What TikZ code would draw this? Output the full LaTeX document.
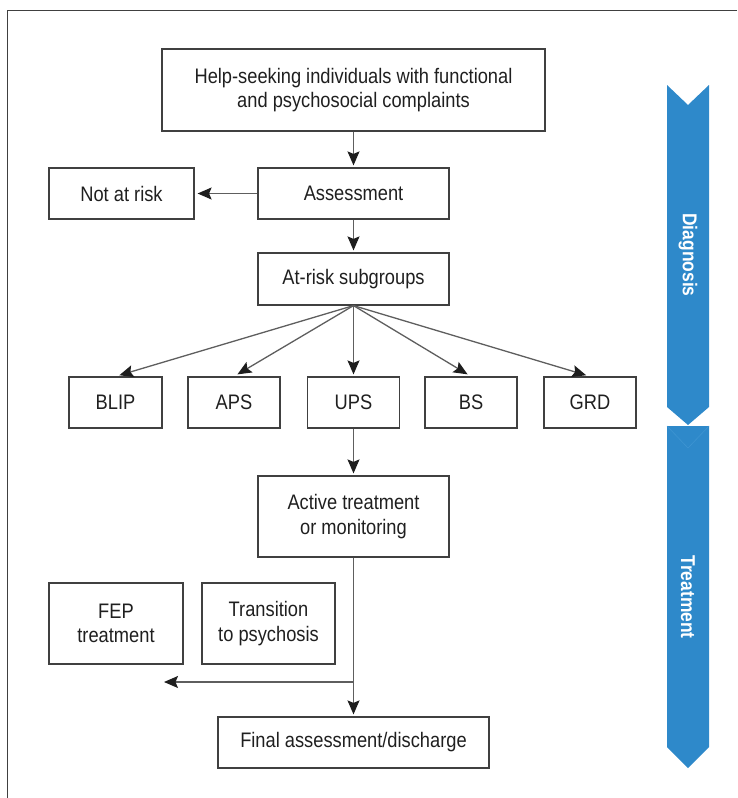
\documentclass[tikz,border=0pt]{standalone}
\usepackage{fontspec}
\setmainfont[FakeStretch=0.87]{Liberation Sans}
\usetikzlibrary{arrows.meta}
\definecolor{boxline}{HTML}{404040}
\definecolor{conn}{HTML}{5E5E5E}
\definecolor{tipcol}{HTML}{1E1E1E}
\definecolor{barblue}{HTML}{2E89CA}
\definecolor{barfaint}{HTML}{3E95D2}
\tikzset{
  box/.style={draw=boxline, line width=1.2pt, rectangle, align=center, inner sep=0pt,
    font=\fontsize{21}{24.5}\selectfont, text=black!88},
  conn/.style={draw=conn, line width=1.3pt, -{Stealth[length=14pt,width=12pt,inset=2.5pt,color=tipcol]}},
  bartext/.style={text=white, font=\bfseries\fontsize{20}{22}\selectfont, rotate=-90}
}
\begin{document}
\begin{tikzpicture}[x=1pt,y=-1pt]
\useasboundingbox (0,0) rectangle (737,798);
% frame
\draw[boxline, line width=1pt] (737,10) -- (7,10) -- (7,798);
% blue bars
\fill[barblue] (667,85) -- (688,105) -- (709,85) -- (709,407) -- (688,425) -- (667,407) -- cycle;
\fill[barblue] (667,426) -- (709,426) -- (709,747) -- (688,768) -- (667,747) -- cycle;
\draw[barfaint, line width=0.6pt] (667,426) -- (688,448) -- (709,426);
\node[bartext] (diag) at (688,255) {Diagnosis};
\node[bartext] (treat) at (688,597) {Treatment};
% boxes
\node[box, minimum width=383pt, minimum height=82pt] (top) at (353.5,90) {Help-seeking individuals with functional\\and psychosocial complaints};
\node[box, minimum width=191pt, minimum height=51pt] (assess) at (353.5,193.5) {Assessment};
\node[box, minimum width=145pt, minimum height=51pt] (notrisk) at (121.5,193.5) {Not at risk};
\node[box, minimum width=191pt, minimum height=52pt] (atrisk) at (353.5,279) {At-risk subgroups};
\node[box, minimum width=93pt, minimum height=51pt] (blip) at (115.5,402.5) {BLIP};
\node[box, minimum width=92pt, minimum height=51pt] (aps) at (234,402.5) {APS};
\node[box, minimum width=92pt, minimum height=51pt] (ups) at (353.5,402.5) {UPS};
\node[box, minimum width=92pt, minimum height=51pt] (bs) at (471,402.5) {BS};
\node[box, minimum width=92pt, minimum height=51pt] (grd) at (590,402.5) {GRD};
\node[box, minimum width=191pt, minimum height=81pt] (active) at (353.5,516.5) {Active treatment\\or monitoring};
\node[box, minimum width=134pt, minimum height=81pt] (fep) at (116,623.5) {FEP\\treatment};
\node[box, minimum width=133pt, minimum height=81pt] (trans) at (268.5,623.5) {Transition\\to psychosis};
\node[box, minimum width=271pt, minimum height=51pt] (final) at (353.5,742.5) {Final assessment/discharge};
% connectors
\draw[conn, shorten >=2pt] (top) -- (assess);
\draw[conn, shorten >=3pt] (assess) -- (notrisk);
\draw[conn, shorten >=2pt] (assess) -- (atrisk);
\draw[conn, shorten >=4pt] (atrisk.south) -- (blip.north);
\draw[conn, shorten >=4pt] (atrisk.south) -- (aps.north);
\draw[conn, shorten >=2pt] (atrisk.south) -- (ups.north);
\draw[conn, shorten >=4pt] (atrisk.south) -- (bs.north);
\draw[conn, shorten >=4pt] (atrisk.south) -- (grd.north);
\draw[conn, shorten >=2pt] (ups) -- (active);
\draw[conn, shorten >=2pt] (active) -- (final);
\coordinate (junc) at (353.5,682);
\coordinate (leftend) at (164,682);
\draw[conn] (junc) -- (leftend);
\end{tikzpicture}
\end{document}
